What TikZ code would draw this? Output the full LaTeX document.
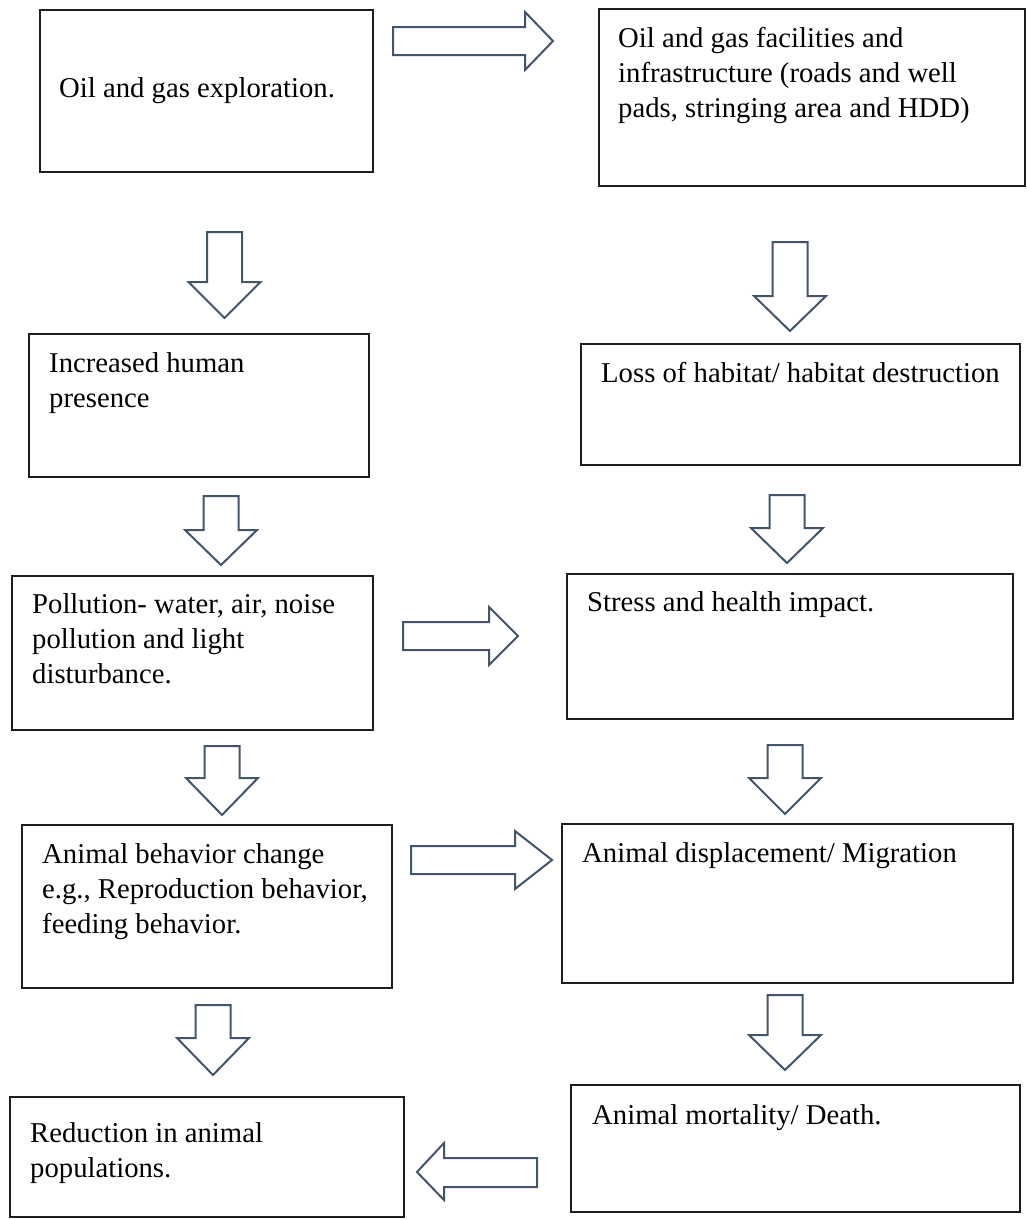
\documentclass[tikz,border=0pt]{standalone}
\usepackage{fontspec}
\setmainfont{Liberation Serif}
\definecolor{boxc}{HTML}{1E1E1E}
\definecolor{arrc}{HTML}{44546A}
\tikzset{
  box/.style={draw=boxc, line width=2pt, inner sep=0pt},
  txt/.style={anchor=north west, inner sep=0pt, align=left, font=\fontsize{28.7}{35}\selectfont},
  blk/.style={draw=arrc, line width=2pt, fill=white, line join=miter},
}
\begin{document}
\begin{tikzpicture}[x=1pt,y=-1pt]
\useasboundingbox[fill=white] (0,0) rectangle (1027,1219);
% boxes
\node[box, minimum width=333pt, minimum height=162pt] (b1) at (206.5,91) {};
\node[box, minimum width=426pt, minimum height=177pt] (b2) at (812,97.5) {};
\node[box, minimum width=340pt, minimum height=143pt] (b3) at (199,405.5) {};
\node[box, minimum width=439pt, minimum height=121pt] (b4) at (800.5,404.5) {};
\node[box, minimum width=361pt, minimum height=154pt] (b5) at (192.5,653) {};
\node[box, minimum width=446pt, minimum height=145pt] (b6) at (790,646.5) {};
\node[box, minimum width=370pt, minimum height=163pt] (b7) at (207,906.5) {};
\node[box, minimum width=451pt, minimum height=159pt] (b8) at (787.5,903.5) {};
\node[box, minimum width=394pt, minimum height=120pt] (b9) at (207,1157) {};
\node[box, minimum width=449pt, minimum height=127pt] (b10) at (795.5,1148.5) {};
% texts
\node[txt] (t1) at (59,72.5) {\strut Oil and gas exploration.};
\node[txt] (t2) at (618,22.5) {\strut Oil and gas facilities and\\infrastructure (roads and well\\pads, stringing area and HDD)};
\node[txt] (t3) at (49,347.5) {\strut Increased human\\presence};
\node[txt] (t4) at (601,357.5) {\strut Loss of habitat/ habitat destruction};
\node[txt] (t5) at (32,588.5) {\strut Pollution- water, air, noise\\pollution and light\\disturbance.};
\node[txt] (t6) at (587,586.5) {\strut Stress and health impact.};
\node[txt] (t7) at (42,838.5) {\strut Animal behavior change\\e.g., Reproduction behavior,\\feeding behavior.};
\node[txt] (t8) at (582,837.5) {\strut Animal displacement/ Migration};
\node[txt] (t9) at (30,1117.5) {\strut Reduction in animal\\populations.};
\node[txt] (t10) at (592,1099.5) {\strut Animal mortality/ Death.};
% down block arrows: centre / top / head base / tip
\foreach \c/\t/\b/\p in {224.5/232/282/318, 790/242/296/331, 221/496/530/565, 787/495/528/563,
                          222/746/778/815, 785/745/778/814, 213/1005/1038/1075, 785/995/1035/1070}
  \draw[blk] (\c-17.5,\t) -- (\c+17.5,\t) -- (\c+17.5,\b) -- (\c+36,\b) -- (\c,\p)
             -- (\c-36,\b) -- (\c-17.5,\b) -- cycle;
% right block arrows: left / mid y / head base / tip
\foreach \l/\m/\h/\p in {393/41/525/553, 403/636/489/518, 411/860/515/552}
  \draw[blk] (\l,\m-14) -- (\h,\m-14) -- (\h,\m-29) -- (\p,\m) -- (\h,\m+29)
             -- (\h,\m+14) -- (\l,\m+14) -- cycle;
% left block arrow
\draw[blk] (537,1158) -- (444,1158) -- (444,1143) -- (417,1172) -- (444,1200)
           -- (444,1187) -- (537,1187) -- cycle;
\end{tikzpicture}
\end{document}
